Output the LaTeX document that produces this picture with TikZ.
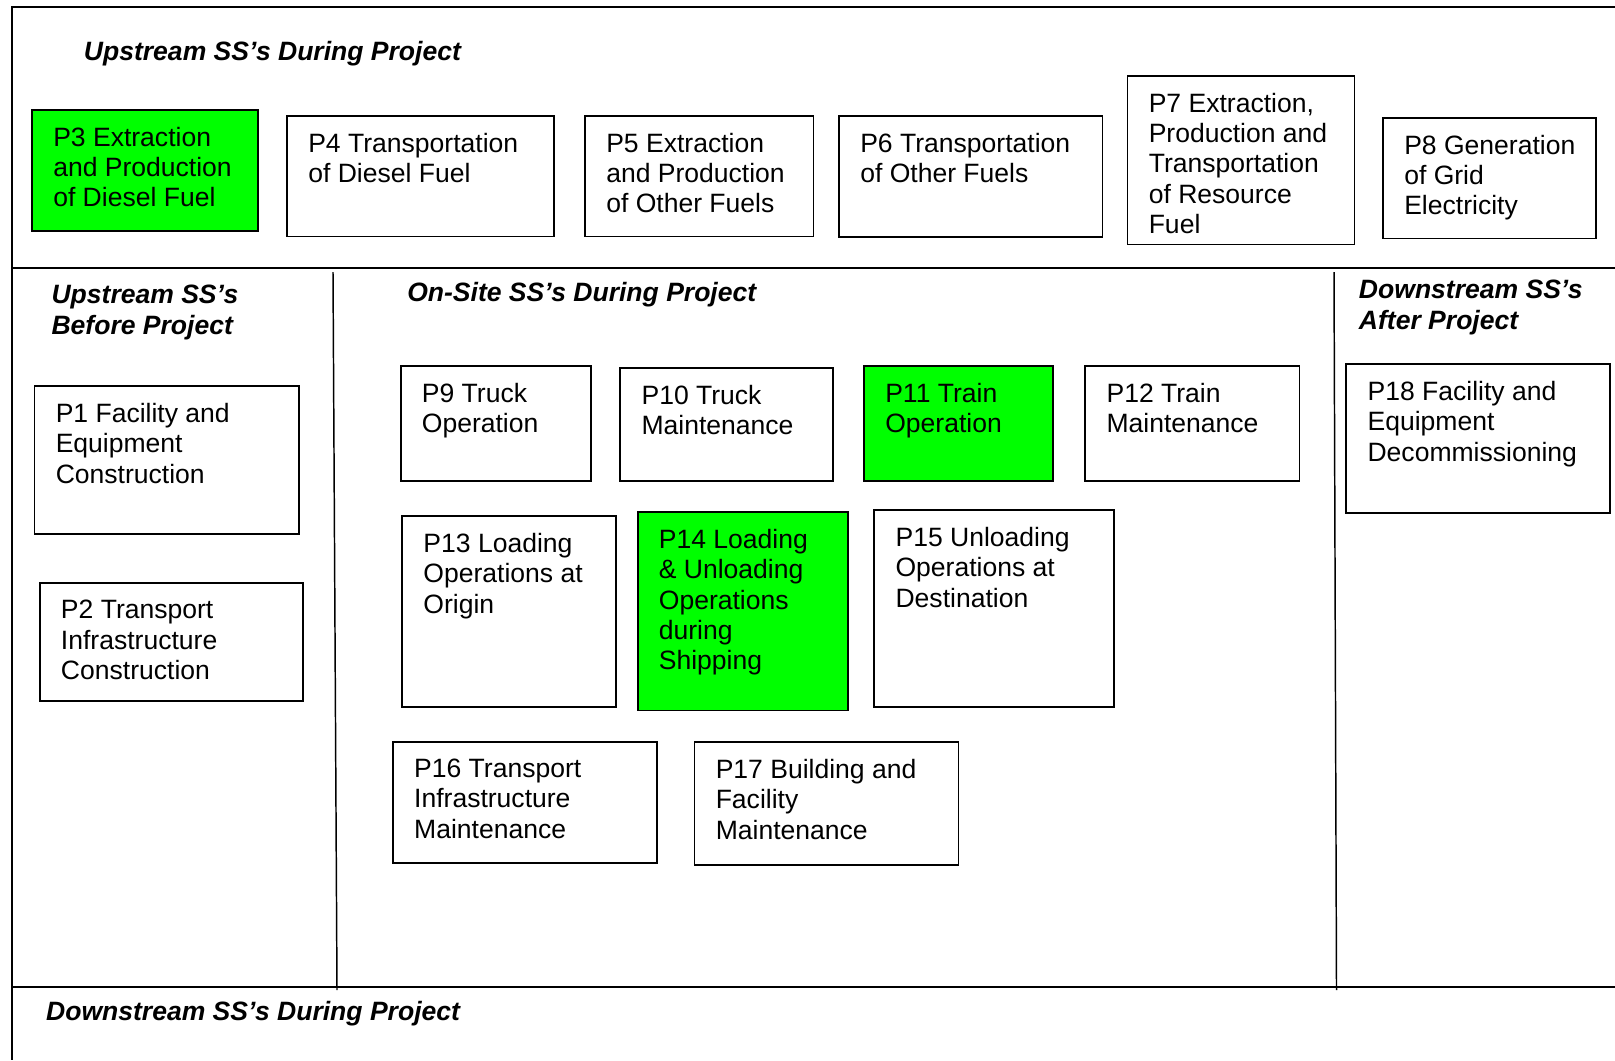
\documentclass[tikz,border=0pt]{standalone}
\usepackage{fontspec}
\setmainfont{Liberation Sans}

\begin{document}
\begin{tikzpicture}[x=0.75pt, y=-0.75pt,
  font=\fontsize{19.9pt}{22.8pt}\selectfont,
  frame/.style={line width=1.5pt},
  divider/.style={line width=1.1pt},
  proc/.style={draw, line width=1.4pt},
  hot/.style={proc, fill=green},
  txt/.style={anchor=north west, inner sep=0pt, align=left},
  head/.style={txt, font=\fontsize{19.9pt}{22.8pt}\selectfont\bfseries\itshape}]
  \useasboundingbox (0,0) rectangle (1615,1060);

  \draw[frame] (1615,7.3) -- (11.5,7.3) -- (11.5,1060);
  \draw[frame] (11.5,267.5) -- (1615,267.5);
  \draw[frame] (11.5,987.3) -- (1615,987.3);
  \draw[divider] (333,272) -- (337,990);
  \draw[divider] (1334,272) -- (1336.5,990);

  \node[head] (upDuring) at (83.7,41) {Upstream SS's During Project};
  \node[head] (upBefore) at (51.3,285) {Upstream SS's\\Before Project};
  \node[head] (onSite) at (407,282) {On-Site SS's During Project};
  \node[head] (downAfter) at (1358.7,280) {Downstream SS's\\After Project};
  \node[head] (downDuring) at (45.9,1001) {Downstream SS's During Project};

  \draw[hot] (32,110) rectangle (258,231);
  \node[txt] (p3) at (53,126.7) {P3 Extraction\\and Production\\of Diesel Fuel};
  \draw[proc] (287,116) rectangle (554,236.5);
  \node[txt] (p4) at (308,132.7) {P4 Transportation\\of Diesel Fuel};
  \draw[proc] (585,116) rectangle (813.5,236.5);
  \node[txt] (p5) at (606,132.7) {P5 Extraction\\and Production\\of Other Fuels};
  \draw[proc] (839,116) rectangle (1102.5,237);
  \node[txt] (p6) at (860,132.7) {P6 Transportation\\of Other Fuels};
  \draw[proc] (1127.5,76) rectangle (1354.5,244.5);
  \node[txt] (p7) at (1148.5,92.7) {P7 Extraction,\\Production and\\Transportation\\of Resource\\Fuel};
  \draw[proc] (1383,118) rectangle (1596,238.5);
  \node[txt] (p8) at (1404,134.7) {P8 Generation\\of Grid\\Electricity};

  \draw[proc] (34.5,386) rectangle (299,534.3);
  \node[txt] (p1) at (55.5,402.7) {P1 Facility and\\Equipment\\Construction};
  \draw[proc] (39.7,583.3) rectangle (303.3,700.7);
  \node[txt] (p2) at (60.7,600) {P2 Transport\\Infrastructure\\Construction};

  \draw[proc] (400.6,366) rectangle (591,480.7);
  \node[txt] (p9) at (421.6,382.7) {P9 Truck\\Operation};
  \draw[proc] (620.3,368) rectangle (833,480.7);
  \node[txt] (p10) at (641.3,384.7) {P10 Truck\\Maintenance};
  \draw[hot] (864,366) rectangle (1052.6,480.7);
  \node[txt] (p11) at (885,382.7) {P11 Train\\Operation};
  \draw[proc] (1085.3,366) rectangle (1299.5,480.7);
  \node[txt] (p12) at (1106.3,382.7) {P12 Train\\Maintenance};

  \draw[proc] (402.2,516) rectangle (616,706.7);
  \node[txt] (p13) at (423.2,532.7) {P13 Loading\\Operations at\\Origin};
  \draw[hot] (637.6,512) rectangle (847.8,710.5);
  \node[txt] (p14) at (658.6,528.7) {P14 Loading\\\& Unloading\\Operations\\during\\Shipping};
  \draw[proc] (874.3,510) rectangle (1114,706.7);
  \node[txt] (p15) at (895.3,526.7) {P15 Unloading\\Operations at\\Destination};

  \draw[proc] (392.9,742) rectangle (657,862.7);
  \node[txt] (p16) at (413.9,758.7) {P16 Transport\\Infrastructure\\Maintenance};
  \draw[proc] (694.5,742) rectangle (958.5,864.7);
  \node[txt] (p17) at (715.5,758.7) {P17 Building and\\Facility\\Maintenance};

  \draw[proc] (1346.3,364) rectangle (1609.8,512.7);
  \node[txt] (p18) at (1367.3,380.7) {P18 Facility and\\Equipment\\Decommissioning};
\end{tikzpicture}
\end{document}
